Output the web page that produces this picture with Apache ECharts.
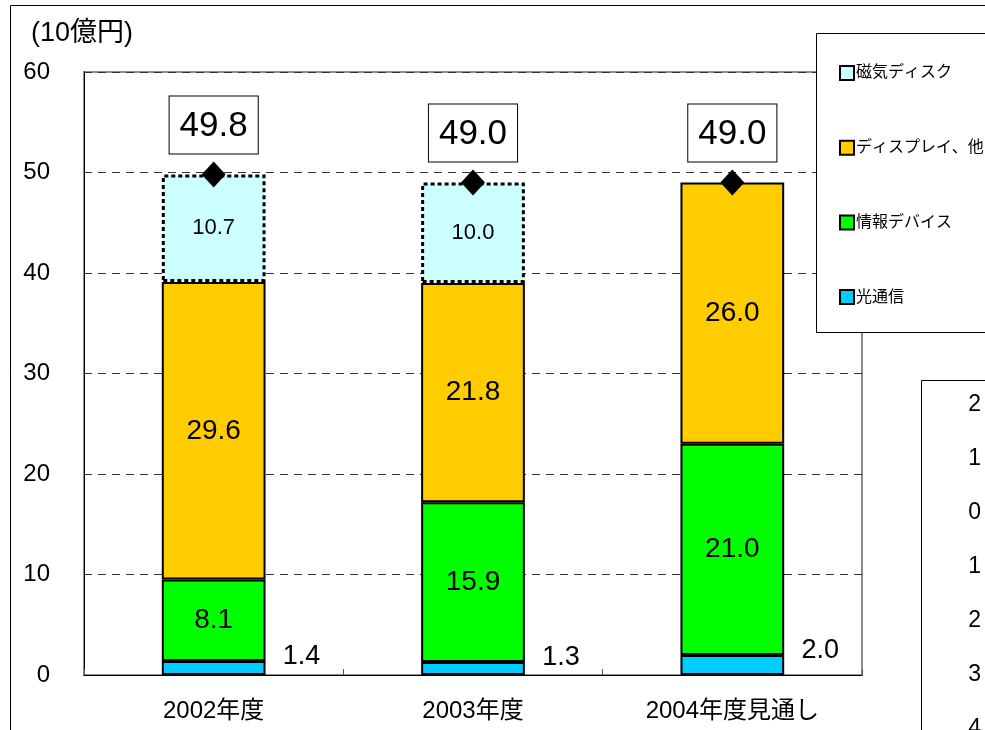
<!DOCTYPE html>
<html>
<head>
<meta charset="utf-8">
<script src="https://cdn.jsdelivr.net/npm/echarts@6/dist/echarts.min.js"></script>
<style>
  html, body { margin: 0; padding: 0; background: #fff; }
  #chart { width: 985px; height: 730px; }
</style>
</head>
<body>
<div id="chart"></div>
<script>
/* 電子部品 積上げ棒 — 年度別 (10億円) */
const years = ['2002年度', '2003年度', '2004年度見通し'];
const hikari = [1.4, 1.3, 2.0];          // 光通信
const device = [8.1, 15.9, 21.0];        // 情報デバイス
const display = [29.6, 21.8, 26.0];      // ディスプレイ、他
const disk = [10.7, 10.0, null];         // 磁気ディスク
const totals = [49.8, 49.0, 49.0];
const yTicks = [0, 10, 20, 30, 40, 50, 60];
const sideTicks = ['2', '1', '0', '1', '2', '3', '4'];

const FONT = '"Liberation Sans", Arial, "Noto Sans CJK JP", sans-serif';
const chart = echarts.init(document.getElementById('chart'));

const barBase = {
  type: 'bar', stack: 'total', barWidth: '40%',
  itemStyle: { borderColor: '#000', borderWidth: 2 },
  label: { show: true, position: 'inside', color: '#000', fontSize: 28, fontFamily: FONT },
  emphasis: { disabled: true }
};

chart.setOption({
  backgroundColor: '#fff',
  animation: false,
  textStyle: { fontFamily: FONT },
  grid: {
    left: 84, right: 123, top: 72, bottom: 55,
    show: true, borderColor: '#8c8c8c', borderWidth: 2
  },
  legend: {
    orient: 'vertical', left: 834, top: 60,
    itemWidth: 14, itemHeight: 14, itemGap: 58.7,
    icon: 'rect',
    itemStyle: { borderColor: '#000', borderWidth: 2, borderType: 'solid' },
    textStyle: { fontSize: 16, color: '#000', fontFamily: FONT, padding: [0, 0, 0, -3] },
    data: ['磁気ディスク', 'ディスプレイ、他', '情報デバイス', '光通信'],
    z: 20
  },
  xAxis: {
    type: 'category', data: years,
    axisLine: { lineStyle: { color: '#000', width: 1 } },
    axisTick: { show: true, inside: true, length: 6, lineStyle: { color: '#555' } },
    axisLabel: { color: '#000', fontSize: 24, margin: 24, fontFamily: FONT }
  },
  yAxis: {
    type: 'value', min: 0, max: 60, interval: 10,
    axisLine: { show: true, lineStyle: { color: '#000', width: 1 } },
    axisTick: { show: false },
    axisLabel: {
      color: '#000', fontSize: 24, margin: 34, fontFamily: FONT,
      formatter: v => yTicks.includes(v) ? String(v) : ''
    },
    splitLine: { lineStyle: { color: '#333', type: [8, 6], width: 1 } }
  },
  graphic: [
    { type: 'rect', shape: { x: 10.5, y: 5.5, width: 1000, height: 1000 },
      style: { fill: 'none', stroke: '#000', lineWidth: 1 }, z: -1, silent: true },
    { type: 'text', x: 31, y: 34,
      style: { text: '(10億円)', font: '27px ' + FONT, fill: '#000', verticalAlign: 'middle' } },
    { type: 'rect', shape: { x: 816.5, y: 33.5, width: 300, height: 299 },
      style: { fill: '#fff', stroke: '#000', lineWidth: 1 }, z: 10 },
    { type: 'rect', shape: { x: 921.5, y: 380.5, width: 100, height: 400 },
      style: { fill: '#fff', stroke: '#000', lineWidth: 1 }, z: 10 }
  ].concat(sideTicks.map((t, i) => ({
    type: 'text', x: 981, y: 405 + i * 54, z: 11,
    style: { text: t, font: '23px ' + FONT, fill: '#000', align: 'right', verticalAlign: 'middle' }
  }))),
  series: [
    Object.assign({}, barBase, {
      name: '光通信', data: hikari,
      itemStyle: { color: '#00ccff', borderColor: '#000', borderWidth: 2 },
      label: { show: true, position: [121, -4], align: 'left', verticalAlign: 'middle',
        color: '#000', fontSize: 27, fontFamily: FONT, formatter: p => p.value.toFixed(1) }
    }),
    Object.assign({}, barBase, {
      name: '情報デバイス', data: device,
      itemStyle: { color: '#00ff00', borderColor: '#000', borderWidth: 2 },
      label: Object.assign({}, barBase.label, { formatter: p => p.value.toFixed(1) })
    }),
    Object.assign({}, barBase, {
      name: 'ディスプレイ、他', data: display,
      itemStyle: { color: '#ffcc00', borderColor: '#000', borderWidth: 2 },
      label: Object.assign({}, barBase.label, { formatter: p => p.value.toFixed(1) })
    }),
    Object.assign({}, barBase, {
      name: '磁気ディスク', data: disk,
      itemStyle: { color: '#ccffff', borderColor: '#000', borderWidth: 3, borderType: [4, 3] },
      label: Object.assign({}, barBase.label, { fontSize: 22, formatter: p => p.value.toFixed(1) })
    }),
    {
      type: 'scatter', name: '合計', data: totals,
      symbol: 'diamond', symbolSize: [24, 26],
      itemStyle: { color: '#000', opacity: 1 }, z: 5,
      emphasis: { disabled: true },
      label: {
        show: true, position: 'top', distance: 8,
        formatter: p => p.value.toFixed(1),
        color: '#000', fontSize: 35, lineHeight: 39, fontFamily: FONT,
        backgroundColor: '#fff', borderColor: '#000', borderWidth: 1,
        padding: [10, 10, 8, 10]
      }
    }
  ]
});
</script>
</body>
</html>
